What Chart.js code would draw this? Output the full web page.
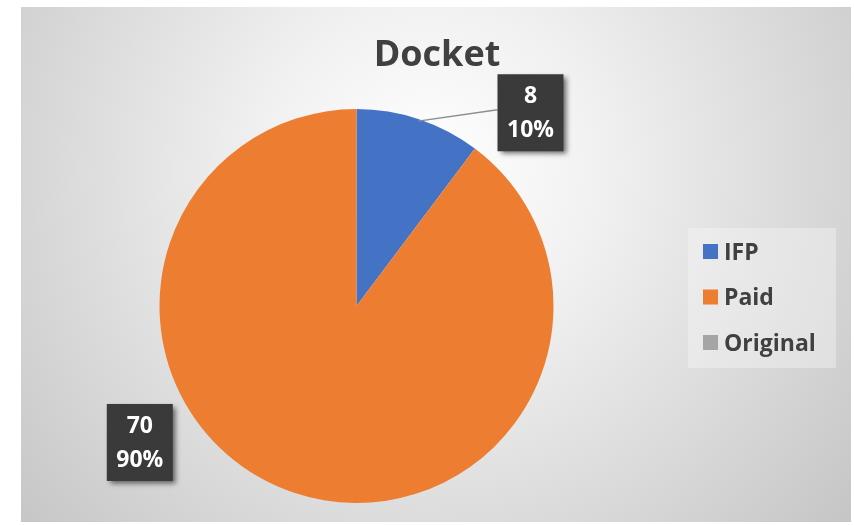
<!DOCTYPE html>
<html><head><meta charset="utf-8">
<script src="https://cdn.jsdelivr.net/npm/chart.js@4/dist/chart.umd.min.js"></script>
<style>html,body{margin:0;padding:0;background:#fff;overflow:hidden}#wrap{width:854px;height:525px;position:relative}</style>
</head><body><div id="wrap"><canvas id="c" width="854" height="525"></canvas></div>
<script>
const chartTitle = 'Docket';
const categories = ['IFP', 'Paid', 'Original'];
const values = [8, 70, 0];
const colors = ['#4472C4', '#ED7D31', '#A5A5A5'];

const FONT = '"Open Sans", "DejaVu Sans", sans-serif';

const bgPlugin = {
  id: 'bg',
  beforeDraw(chart) {
    const ctx = chart.ctx;
    ctx.save();
    const g = ctx.createRadialGradient(430, 170, 0, 430, 170, 560);
    g.addColorStop(0, '#ffffff');
    g.addColorStop(0.3, '#f1f1f1');
    g.addColorStop(1, '#c4c4c4');
    ctx.fillStyle = g;
    ctx.fillRect(21, 7, 830, 515);
    ctx.restore();
  }
};

const labelPlugin = {
  id: 'boxLabels',
  afterDatasetsDraw(chart, args, opts) {
    const ctx = chart.ctx;
    const meta = chart.getDatasetMeta(0);
    const data = chart.data.datasets[0].data;
    const total = data.reduce((a, b) => a + b, 0);
    data.forEach((v, i) => {
      if (!v) return;
      const arc = meta.data[i];
      const p = arc.getProps(['x', 'y', 'startAngle', 'endAngle', 'outerRadius'], true);
      const a = opts.angles[i] * Math.PI / 180 - Math.PI / 2;
      const d = opts.dist[i] * p.outerRadius;
      const cx = p.x + Math.cos(a) * d;
      const cy = p.y + Math.sin(a) * d;
      const w = opts.w, h = opts.h;
      const bx = cx - w / 2, by = cy - h / 2;
      ctx.save();
      if (opts.leader[i]) {
        const mid = (p.startAngle + p.endAngle) / 2;
        ctx.strokeStyle = '#8c8c8c';
        ctx.lineWidth = 1.3;
        ctx.beginPath();
        ctx.moveTo(p.x + Math.cos(mid) * (p.outerRadius - 2), p.y + Math.sin(mid) * (p.outerRadius - 2));
        ctx.lineTo(bx, cy - 3);
        ctx.stroke();
      }
      ctx.shadowColor = 'rgba(0,0,0,0.55)';
      ctx.shadowBlur = 5;
      ctx.shadowOffsetX = 3;
      ctx.shadowOffsetY = 3;
      ctx.fillStyle = '#3a3a3a';
      ctx.fillRect(bx, by, w, h);
      ctx.shadowColor = 'transparent';
      ctx.fillStyle = '#ffffff';
      ctx.font = 'bold 23px ' + FONT;
      ctx.textAlign = 'center';
      ctx.textBaseline = 'middle';
      const pct = Math.round(v / total * 100) + '%';
      ctx.fillText(String(v), cx, cy - 16);
      ctx.fillText(pct, cx, cy + 18);
      ctx.restore();
    });
  },
  afterDraw(chart) {
    const ctx = chart.ctx;
    ctx.save();
    // title
    ctx.fillStyle = '#404040';
    ctx.font = 'bold 36px ' + FONT;
    ctx.textAlign = 'center';
    ctx.textBaseline = 'alphabetic';
    ctx.fillText(chartTitle, 437, 66);
    // legend
    ctx.fillStyle = 'rgba(248,248,248,0.4)';
    ctx.fillRect(688, 228, 148, 140);
    const labels = chart.data.labels;
    const bg = chart.data.datasets[0].backgroundColor;
    ctx.font = 'bold 23px ' + FONT;
    ctx.textAlign = 'left';
    ctx.textBaseline = 'middle';
    labels.forEach((l, i) => {
      const y = 252 + i * 45.5;
      ctx.fillStyle = bg[i];
      ctx.fillRect(703, y - 8, 15, 15);
      ctx.fillStyle = '#404040';
      ctx.fillText(l, 724, y + 1);
    });
    ctx.restore();
  }
};

new Chart(document.getElementById('c'), {
  type: 'pie',
  data: {
    labels: categories,
    datasets: [{ data: values, backgroundColor: colors, borderWidth: 0 }]
  },
  options: {
    responsive: false,
    animation: false,
    devicePixelRatio: 1,
    layout: { padding: { left: 159, right: 300, top: 109, bottom: 22 } },
    plugins: {
      legend: { display: false },
      title: { display: false },
      tooltip: { enabled: false },
      boxLabels: { angles: [42, 237.8], dist: [1.32, 1.3], leader: [true, false], w: 66, h: 77 }
    }
  },
  plugins: [bgPlugin, labelPlugin]
});
</script>
</body></html>
